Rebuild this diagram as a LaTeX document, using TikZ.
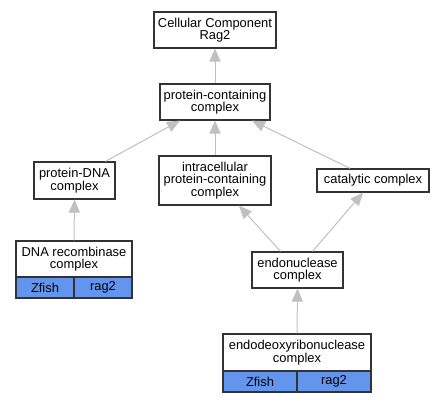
\documentclass[tikz,border=0pt]{standalone}
\usepackage{fontspec}
\setmainfont{Liberation Sans}
\usetikzlibrary{arrows.meta}
\definecolor{cblue}{HTML}{6495ED}
\definecolor{edgegray}{HTML}{C0C0C0}
\definecolor{boxline}{HTML}{333333}
\begin{document}
\begin{tikzpicture}[x=1pt,y=-1pt,
  font=\fontsize{12.9}{12.6}\selectfont,
  box/.style={draw=boxline, line width=1.2pt, fill=white, align=center, inner sep=0pt},
  cell/.style={draw=boxline, line width=1.2pt, fill=cblue, inner sep=0pt},
  edge/.style={draw=edgegray, line width=1pt, -{Triangle[width=11pt,length=13pt]}}]
\useasboundingbox[fill=white] (0,0) rectangle (445,403);

\node[box, minimum width=122pt, minimum height=36pt] (cc) at (215,30) {Cellular Component\\Rag2};
\node[box, minimum width=110pt, minimum height=36pt] (pc) at (215,102) {protein-containing\\complex};
\node[box, minimum width=81pt, minimum height=37pt] (pdna) at (74.5,180.5) {protein-DNA\\complex};
\node[box, minimum width=112pt, minimum height=49pt] (ipc) at (215,180.5) {intracellular\\protein-containing\\complex};
\node[box, minimum width=112pt, minimum height=23pt] (cat) at (373,180.5) {catalytic complex};
\node[box, minimum width=116pt, minimum height=36pt] (dna) at (74,259) {DNA recombinase\\complex};
\node[cell, minimum width=58pt, minimum height=21pt] (dnaz) at (45,287.5) {Zfish};
\node[cell, minimum width=58pt, minimum height=21pt] (dnar) at (103,287.5) {rag2};
\node[box, minimum width=91pt, minimum height=36pt] (endo) at (297.5,270) {endonuclease\\complex};
\node[box, minimum width=148pt, minimum height=37pt] (ed) at (297,352.5) {endodeoxyribonuclease\\complex};
\node[cell, minimum width=74pt, minimum height=21pt] (edz) at (260,381.5) {Zfish};
\node[cell, minimum width=74pt, minimum height=21pt] (edr) at (334,381.5) {rag2};

\draw[edge] (pc.north) -- (cc.south);
\draw[edge] ([xshift=31pt]pdna.north) -- ([xshift=-35pt]pc.south);
\draw[edge] (ipc.north) -- (pc.south);
\draw[edge] ([xshift=-23pt]cat.north) -- ([xshift=37pt]pc.south);
\draw[edge] (dna.north) -- (pdna.south);
\draw[edge] ([xshift=-17pt]endo.north) -- ([xshift=24pt]ipc.south);
\draw[edge] ([xshift=15pt]endo.north) -- ([xshift=-10pt]cat.south);
\draw[edge] (ed.north) -- (endo.south);
\end{tikzpicture}
\end{document}
